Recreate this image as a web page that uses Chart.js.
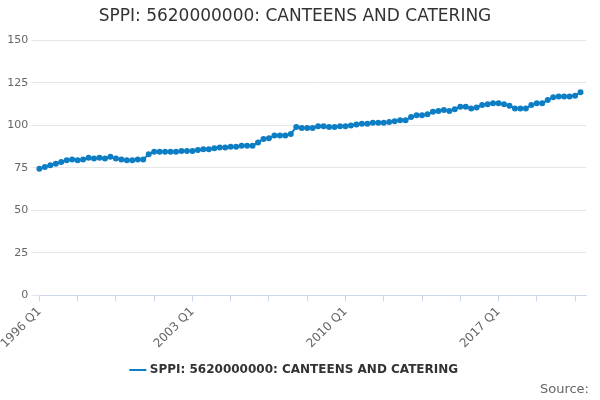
<!DOCTYPE html>
<html>
<head>
<script src="https://cdn.jsdelivr.net/npm/chart.js@4"></script>
<style>
  body { margin: 0; background: #fff; }
  #wrap { position: relative; width: 600px; height: 400px; }
  #src { position: absolute; right: 11px; bottom: 4px; font: 13px "DejaVu Sans", sans-serif; color: #666; }
</style>
</head>
<body>
<div id="wrap">
  <canvas id="ppi" width="600" height="400"></canvas>
  <div id="src">Source:</div>
</div>
<script>
const years = [];
for (let y = 1996; y <= 2020; y++) years.push(y);

const ppi = [
  74.5, 75.5, 76.5, 77.5,
  78.5, 79.5, 80, 79.5,
  80, 81, 80.5, 81,
  80.5, 81.5, 80.5, 80,
  79.5, 79.5, 80, 80,
  83, 84.5, 84.5, 84.5,
  84.5, 84.5, 85, 85,
  85, 85.5, 86, 86,
  86.5, 87, 87, 87.5,
  87.5, 88, 88, 88,
  90, 92, 92.5, 94,
  94, 94, 95, 99,
  98.5, 98.5, 98.5, 99.5,
  99.5, 99, 99, 99.5,
  99.5, 100, 100.5, 101,
  101, 101.5, 101.5, 101.5,
  102, 102.5, 103, 103,
  105, 106, 106, 106.5,
  108, 108.5, 109, 108.5,
  109.5, 111, 111, 110,
  110.5, 112, 112.5, 113,
  113, 112.5, 111.5, 110,
  110, 110, 112, 113,
  113, 115, 116.5, 117,
  117, 117, 117.5, 119.5, 119
];

const labels = [];
years.forEach(y => [1, 2, 3, 4].forEach(q => labels.push(y + ' Q' + q)));
labels.length = ppi.length;

Chart.defaults.font.family = '"DejaVu Sans", sans-serif';
Chart.defaults.color = '#666';

new Chart(document.getElementById('ppi'), {
  type: 'line',
  data: {
    labels: labels,
    datasets: [{
      label: 'SPPI: 5620000000: CANTEENS AND CATERING',
      data: ppi,
      borderColor: '#0e7ec4',
      backgroundColor: '#0e7ec4',
      borderWidth: 2,
      pointRadius: 2,
      pointHoverRadius: 3,
      tension: 0
    }]
  },
  options: {
    responsive: false,
    animation: false,
    layout: { padding: { left: 4, right: 14, bottom: 14 } },
    plugins: {
      title: {
        display: true,
        text: 'SPPI: 5620000000: CANTEENS AND CATERING',
        color: '#333',
        font: { size: 17, weight: 'normal' },
        padding: { top: 6, bottom: 14 }
      },
      legend: {
        position: 'bottom',
        labels: { usePointStyle: true, pointStyle: 'line', color: '#333', font: { size: 12, weight: 'bold' } }
      },
      tooltip: { enabled: false }
    },
    scales: {
      x: {
        grid: { drawOnChartArea: false, color: '#ccd6eb', tickLength: 6 },
        border: { color: '#ccd6eb' },
        ticks: {
          autoSkip: false,
          maxRotation: 45,
          minRotation: 45,
          font: { size: 12 },
          callback: function(v, i) {
            if (i === ppi.length - 1) return labels[i];
            if (i % 28 === 0) return labels[i];
            if (i % 7 === 0) return '';
            return null;
          }
        }
      },
      y: {
        min: 0,
        max: 150,
        ticks: { stepSize: 25, font: { size: 11 } },
        grid: { color: '#e6e6e6' },
        border: { display: false }
      }
    }
  }
});
</script>
</body>
</html>
